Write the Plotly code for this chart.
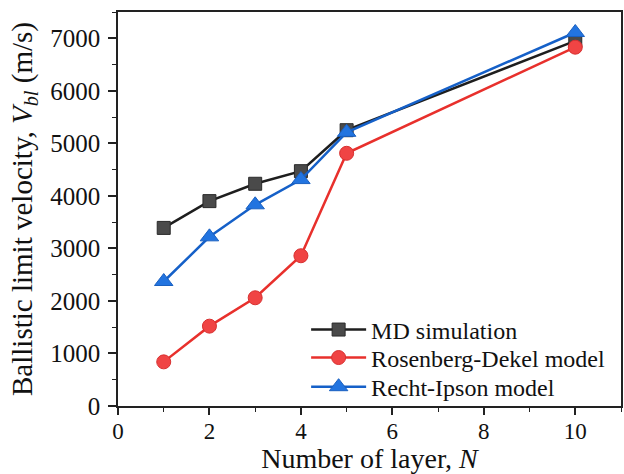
import plotly.graph_objects as go

layers = [1, 2, 3, 4, 5, 10]
md_sim = [3390, 3900, 4230, 4470, 5250, 6950]
rosenberg = [840, 1520, 2060, 2860, 4810, 6830]
recht = [2370, 3220, 3830, 4310, 5210, 7110]

FONT = "Times New Roman, Liberation Serif, DejaVu Serif, serif"

fig = go.Figure()
fig.add_trace(go.Scatter(x=layers, y=md_sim, name="MD simulation", mode="lines+markers",
                         legend="legend",
                         line=dict(color="#1e1e1e", width=2.5),
                         marker=dict(symbol="square", size=13, color="#4a4a4a",
                                     line=dict(color="#2a2a2a", width=1))))
fig.add_trace(go.Scatter(x=layers, y=rosenberg, name="Rosenberg-Dekel model", mode="lines+markers",
                         legend="legend2",
                         line=dict(color="#e8302c", width=2.5),
                         marker=dict(symbol="circle", size=14, color="#f04444",
                                     line=dict(color="#d83030", width=1))))
fig.add_trace(go.Scatter(x=layers, y=recht, name="Recht-Ipson model", mode="lines+markers",
                         legend="legend3",
                         line=dict(color="#1560c8", width=2.5),
                         marker=dict(symbol="triangle-up", size=16, color="#2274e0",
                                     line=dict(color="#1a60c0", width=1))))

def leg(y):
    return dict(x=0.374, y=y, xanchor="left", yanchor="middle",
                bgcolor="rgba(0,0,0,0)", font=dict(size=24, family=FONT),
                itemwidth=55)

fig.update_layout(
    width=624, height=474,
    margin=dict(l=118, r=1, t=12, b=68),
    plot_bgcolor="white", paper_bgcolor="white",
    font=dict(family=FONT, color="#111"),
    showlegend=True,
    legend=leg(0.193), legend2=leg(0.122), legend3=leg(0.048),
    xaxis=dict(range=[0, 11], tickvals=[0, 2, 4, 6, 8, 10], ticks="outside", ticklen=7,
               tickwidth=1.5, tickcolor="#222", showline=True, linecolor="#222", linewidth=1.5,
               mirror=True, showgrid=False, zeroline=False, ticklabelstandoff=-3,
               tickfont=dict(size=23, family=FONT),
               minor=dict(dtick=1, ticks="outside", ticklen=4, tickcolor="#222", tickwidth=1.2),
               title=dict(text="Number of layer, <i>N</i>", font=dict(size=28, family=FONT), standoff=2)),
    yaxis=dict(range=[0, 7500], tickvals=[0, 1000, 2000, 3000, 4000, 5000, 6000, 7000],
               ticks="outside", ticklen=8, tickwidth=1.5, tickcolor="#222",
               showline=True, linecolor="#222", linewidth=1.5, mirror=True,
               showgrid=False, zeroline=False, ticklabelstandoff=3,
               tickfont=dict(size=25, family=FONT),
               minor=dict(dtick=500, ticks="outside", ticklen=4, tickcolor="#222", tickwidth=1.2),
               title=dict(text="Ballistic limit velocity, <i>V<sub>bl</sub></i> (m/s)",
                          font=dict(size=29, family=FONT), standoff=9)),
)

fig.write_html("out.html")
